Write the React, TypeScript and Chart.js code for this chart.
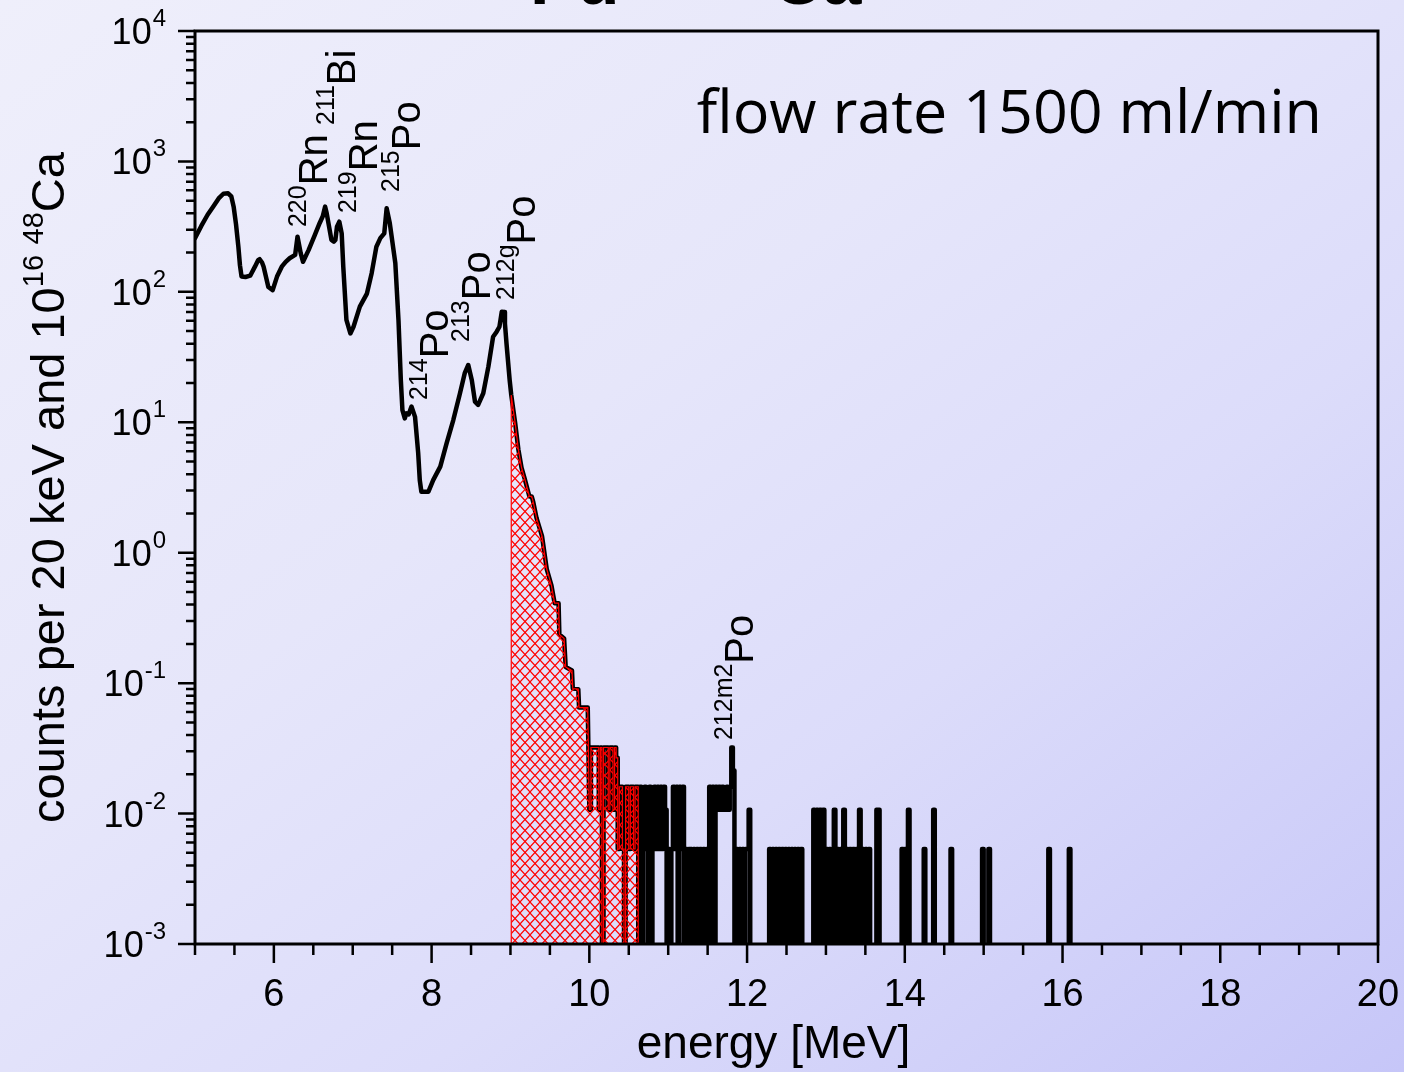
import { useEffect, useRef } from "react";
import { Chart, registerables } from "chart.js";

Chart.register(...registerables);

const CANVAS_W = 1404;
const CANVAS_H = 1072;

// High-statistics part of the alpha spectrum: energy [MeV] and counts per 20 keV (normalised)
const smoothEnergy = [
  5.0, 5.08, 5.16, 5.23, 5.3, 5.36, 5.42, 5.46, 5.49, 5.52,
  5.55, 5.57, 5.59, 5.64, 5.7, 5.76, 5.8, 5.82, 5.85, 5.87,
  5.93, 5.985, 6.04, 6.1, 6.15, 6.2, 6.27, 6.3, 6.34, 6.37,
  6.44, 6.52, 6.58, 6.62, 6.65, 6.67, 6.7, 6.73, 6.76, 6.78,
  6.8, 6.83, 6.86, 6.88, 6.92, 6.97, 7.01, 7.09, 7.18, 7.24,
  7.3, 7.35, 7.4, 7.43, 7.47, 7.54, 7.58, 7.61, 7.63, 7.66,
  7.68, 7.71, 7.745, 7.79, 7.83, 7.85, 7.87, 7.96, 8.02, 8.11,
  8.19, 8.275, 8.36, 8.42, 8.465, 8.51, 8.55, 8.59, 8.655, 8.72,
  8.78, 8.825, 8.86, 8.89, 8.92, 8.93, 8.95, 8.99, 9.01, 9.06,
  9.1, 9.14, 9.18, 9.24, 9.27, 9.29, 9.33, 9.4, 9.46, 9.52,
  9.56, 9.61, 9.62, 9.68, 9.7, 9.78, 9.79, 9.86, 9.87, 9.98,
];
const smoothCounts = [
  258, 320, 390, 450, 520, 565, 570, 540, 450, 330,
  222, 160, 131, 130, 133, 156, 175, 178, 168, 156,
  109, 103, 131, 156, 170, 181, 192, 265, 198, 170,
  209, 273, 336, 380, 450, 400, 316, 250, 243, 250,
  316, 345, 281, 156, 61, 48, 54, 77, 97, 139,
  222, 258, 281, 437, 336, 166, 61, 21, 12.4, 10.7,
  11.7, 11.5, 13.2, 11, 5.8, 3.6, 2.94, 2.94, 3.6, 4.57,
  6.9, 10.4, 16.7, 23.8, 27.5, 21, 14.4, 13.6, 16.7, 26.7,
  45.3, 49.5, 54, 70.5, 70, 57, 40, 21, 16.2, 9.8,
  6.2, 4.5, 3.7, 2.7, 2.7, 2.43, 1.85, 1.34, 0.75, 0.56,
  0.41, 0.41, 0.236, 0.22, 0.133, 0.125, 0.091, 0.09, 0.065, 0.065,
];

// Low-statistics tail: raw event counts in 20 keV bins
const COUNT_UNIT = 0.00535; // one event per 20 keV bin after normalisation
const BIN_WIDTH = 0.02;
const TAIL_START = 10.0;
const TAIL_END = 20.0;
// consecutive bins from 10.00 MeV
const tailBinCounts = [
  2, 6, 6, 6, 6, 6, 2, 6, 0, 6,
  6, 6, 2, 6, 6, 2, 6, 5, 1, 3,
  3, 1, 0, 3, 3, 1, 3, 3, 1, 3,
  3, 0, 3, 0, 1, 3, 1, 0, 3, 0,
  1, 3, 1, 3, 1, 3, 1, 3, 2, 0,
  1, 0, 1, 3, 1, 3, 0, 3, 1, 3,
  0, 1, 0, 1, 1, 0, 1, 0, 1, 0,
  1, 0, 1, 0, 1, 0, 3, 0, 3, 0,
  3, 2, 3, 2, 3, 2, 2, 3, 2, 3,
  6, 4, 0, 1, 0, 1, 0, 1, 0, 1,
  1, 2,
];
// isolated events above 12.1 MeV: [bin start energy, counts]
const sparseEvents: [number, number][] = [
  [12.28, 1], [12.32, 1], [12.36, 1], [12.4, 1], [12.44, 1], [12.48, 1],
  [12.52, 1], [12.56, 1], [12.6, 1], [12.64, 1], [12.68, 1],
  [12.84, 2], [12.88, 2], [12.92, 2], [12.96, 2], [13.0, 1], [13.04, 1],
  [13.1, 2], [13.14, 1], [13.18, 1], [13.22, 2], [13.26, 1], [13.3, 1],
  [13.34, 1], [13.38, 1], [13.42, 2], [13.46, 1], [13.5, 1], [13.54, 1],
  [13.64, 2], [13.66, 2], [13.96, 1], [14.0, 1], [14.04, 2], [14.24, 1],
  [14.36, 2], [14.58, 1], [14.98, 1], [15.06, 1], [15.82, 1], [16.08, 1],
];

// hatched window under the 212gPo tail
const HATCH_FROM = 9.01;
const HATCH_TO = 10.62;

// empty bins are plotted below the axis floor so the trace drops out of view
const EMPTY_BIN_LEVEL = 1e-4;

const X_MIN = 5;
const X_MAX = 20;
const xTickValues = [6, 8, 10, 12, 14, 16, 18, 20];
const xTickLabels = ["6", "8", "10", "12", "14", "16", "18", "20"];
const X_MINOR_STEP = 0.5;
const yDecadeExponents = [-3, -2, -1, 0, 1, 2, 3, 4];

// nuclide labels, anchored in data space (energy, counts)
const peakLabels = [
  { mass: "220", symbol: "Rn", energy: 6.674, level: 314 },
  { mass: "211", symbol: "Bi", energy: 7.029, level: 1903 },
  { mass: "219", symbol: "Rn", energy: 7.308, level: 402 },
  { mass: "215", symbol: "Po", energy: 7.853, level: 583 },
  { mass: "214", symbol: "Po", energy: 8.208, level: 14.8 },
  { mass: "213", symbol: "Po", energy: 8.74, level: 41.3 },
  { mass: "212g", symbol: "Po", energy: 9.311, level: 86.6 },
  { mass: "212m2", symbol: "Po", energy: 12.075, level: 0.0366 },
];

const runLabel = "flow rate 1500 ml/min";

const SANS = '"Liberation Sans", Arial, sans-serif';

type Pt = { x: number; y: number };

function buildTail(): Pt[] {
  const bins = new Map<number, number>();
  tailBinCounts.forEach((c, i) => bins.set(i, c));
  sparseEvents.forEach(([e, c]) => bins.set(Math.round((e - TAIL_START) / BIN_WIDTH), c));
  const n = Math.round((TAIL_END - TAIL_START) / BIN_WIDTH);
  const pts: Pt[] = [];
  for (let i = 0; i < n; i++) {
    const c = bins.get(i) ?? 0;
    const lo = TAIL_START + i * BIN_WIDTH;
    const v = c > 0 ? c * COUNT_UNIT : EMPTY_BIN_LEVEL;
    pts.push({ x: lo, y: v }, { x: lo + BIN_WIDTH, y: v });
  }
  return pts;
}

function makeHatch(): CanvasPattern | string {
  const c = document.createElement("canvas");
  c.width = 10;
  c.height = 11;
  const g = c.getContext("2d");
  if (!g) return "rgba(255,0,0,0.3)";
  g.strokeStyle = "#ff0000";
  g.lineWidth = 1.2;
  g.beginPath();
  g.moveTo(-1, -1.1);
  g.lineTo(11, 12.1);
  g.moveTo(11, -1.1);
  g.lineTo(-1, 12.1);
  g.stroke();
  return g.createPattern(c, "repeat") ?? "rgba(255,0,0,0.3)";
}

type Seg = { text: string; font: string; dy: number };

function drawSegments(ctx: CanvasRenderingContext2D, segs: Seg[], x: number, y: number) {
  let cx = x;
  for (const s of segs) {
    ctx.font = s.font;
    ctx.fillText(s.text, cx, y + s.dy);
    cx += ctx.measureText(s.text).width;
  }
}

function segWidth(ctx: CanvasRenderingContext2D, segs: Seg[]) {
  let w = 0;
  for (const s of segs) {
    ctx.font = s.font;
    w += ctx.measureText(s.text).width;
  }
  return w;
}

const decorations = {
  id: "decorations",
  afterDraw(chart: any) {
    const { ctx, chartArea: a } = chart;
    const xs = chart.scales.x;
    const ys = chart.scales.y;
    ctx.save();
    ctx.fillStyle = "#000";
    ctx.strokeStyle = "#000";
    ctx.textAlign = "left";
    ctx.textBaseline = "alphabetic";

    // frame
    ctx.lineWidth = 3;
    ctx.strokeRect(a.left, a.top, a.right - a.left, a.bottom - a.top);

    // x ticks
    ctx.lineWidth = 2.5;
    ctx.beginPath();
    const nx = Math.round((X_MAX - X_MIN) / X_MINOR_STEP);
    for (let k = 0; k <= nx; k++) {
      const v = X_MIN + k * X_MINOR_STEP;
      const px = xs.getPixelForValue(v);
      const len = xTickValues.includes(v) ? 19 : 11;
      ctx.moveTo(px, a.bottom);
      ctx.lineTo(px, a.bottom + len);
    }
    // y ticks
    for (const e of yDecadeExponents) {
      const py = ys.getPixelForValue(Math.pow(10, e));
      ctx.moveTo(a.left, py);
      ctx.lineTo(a.left - 17, py);
      if (e < 4) {
        for (let m = 2; m <= 9; m++) {
          const pm = ys.getPixelForValue(m * Math.pow(10, e));
          ctx.moveTo(a.left, pm);
          ctx.lineTo(a.left - 9, pm);
        }
      }
    }
    ctx.stroke();

    // x tick labels
    ctx.textAlign = "center";
    ctx.font = `38px ${SANS}`;
    xTickValues.forEach((v, i) => {
      ctx.fillText(xTickLabels[i], xs.getPixelForValue(v), a.bottom + 62);
    });

    // y tick labels: 10 with raised exponent
    ctx.textAlign = "left";
    const labelRight = a.left - 29;
    for (const e of yDecadeExponents) {
      const py = ys.getPixelForValue(Math.pow(10, e));
      const exp = String(e);
      ctx.font = `24px ${SANS}`;
      const ew = ctx.measureText(exp).width;
      ctx.fillText(exp, labelRight - ew, py - 5);
      ctx.font = `36px ${SANS}`;
      const bw = ctx.measureText("10").width;
      ctx.fillText("10", labelRight - ew - bw - 1, py + 13);
    }

    // axis titles
    ctx.font = `46px ${SANS}`;
    ctx.textAlign = "center";
    ctx.fillText("energy [MeV]", (a.left + a.right) / 2 - 13, a.bottom + 114);
    ctx.textAlign = "left";

    const ySegs: Seg[] = [
      { text: "counts per 20 keV and 10", font: `47px ${SANS}`, dy: 0 },
      { text: "16", font: `29px ${SANS}`, dy: -21 },
      { text: " ", font: `38px ${SANS}`, dy: 0 },
      { text: "48", font: `29px ${SANS}`, dy: -21 },
      { text: "Ca", font: `47px ${SANS}`, dy: 0 },
    ];
    ctx.save();
    ctx.translate(64, (a.top + a.bottom) / 2);
    ctx.rotate(-Math.PI / 2);
    drawSegments(ctx, ySegs, -segWidth(ctx, ySegs) / 2, 0);
    ctx.restore();

    // nuclide labels, rotated
    for (const lab of peakLabels) {
      const px = xs.getPixelForValue(lab.energy);
      const py = ys.getPixelForValue(lab.level);
      ctx.save();
      ctx.translate(px, py);
      ctx.rotate(-Math.PI / 2);
      drawSegments(
        ctx,
        [
          { text: lab.mass, font: `25px ${SANS}`, dy: -21 },
          { text: lab.symbol, font: `40px ${SANS}`, dy: 0 },
        ],
        0,
        0
      );
      ctx.restore();
    }

    // run condition
    ctx.font = `61px "Open Sans", ${SANS}`;
    ctx.textAlign = "right";
    ctx.fillText(runLabel, a.right - 56, a.top + 102);

    // reaction title, mostly above the visible page
    ctx.textAlign = "left";
    ctx.font = `bold 70px ${SANS}`;
    ctx.fillText("Pu", 530, 4);
    ctx.fillText("Ca", 772, 4);
    ctx.textAlign = "center";
    ctx.fillText("+", 662, 4);
    ctx.textAlign = "right";
    ctx.font = `bold 42px ${SANS}`;
    ctx.fillText("244", 528, -30);
    ctx.fillText("48", 770, -30);

    ctx.restore();
  },
};

export default function App() {
  const canvasRef = useRef<HTMLCanvasElement | null>(null);

  useEffect(() => {
    const canvas = canvasRef.current;
    if (!canvas) return;

    const smooth: Pt[] = smoothEnergy.map((e, i) => ({ x: e, y: smoothCounts[i] }));
    const tail = buildTail();
    const spectrum = [...smooth, ...tail];

    const hatched: Pt[] = [
      { x: HATCH_FROM, y: EMPTY_BIN_LEVEL },
      ...smooth.filter((p) => p.x >= HATCH_FROM),
      ...tail.filter((p) => p.x <= HATCH_TO + 1e-9),
      { x: HATCH_TO, y: EMPTY_BIN_LEVEL },
    ];

    const chart = new Chart(canvas, {
      type: "line",
      data: {
        datasets: [
          {
            data: hatched,
            borderColor: "#ff0000",
            borderWidth: 1.2,
            backgroundColor: makeHatch() as any,
            fill: "start",
            pointRadius: 0,
            tension: 0,
            order: 1,
          },
          {
            data: spectrum,
            borderColor: "#000000",
            borderWidth: 4.5,
            borderJoinStyle: "round",
            borderCapStyle: "round",
            fill: false,
            pointRadius: 0,
            tension: 0,
            order: 2,
          },
        ],
      },
      options: {
        animation: false,
        responsive: false,
        devicePixelRatio: 1,
        events: [],
        layout: { padding: { left: 195, top: 31, right: 26, bottom: 128 } },
        plugins: {
          legend: { display: false },
          tooltip: { enabled: false },
          title: { display: false },
        },
        scales: {
          x: { type: "linear", min: X_MIN, max: X_MAX, display: false },
          y: { type: "logarithmic", min: 1e-3, max: 1e4, display: false },
        },
      },
      plugins: [decorations],
    });

    return () => chart.destroy();
  }, []);

  return (
    <div
      style={{
        position: "absolute",
        left: 0,
        top: 0,
        width: CANVAS_W,
        height: CANVAS_H,
        overflow: "hidden",
        background:
          "linear-gradient(to bottom right, #efeffb 0%, #e6e6fa 40%, #dcdcfa 65%, #c6c6f8 100%)",
      }}
    >
      <canvas ref={canvasRef} width={CANVAS_W} height={CANVAS_H} style={{ display: "block" }} />
    </div>
  );
}
